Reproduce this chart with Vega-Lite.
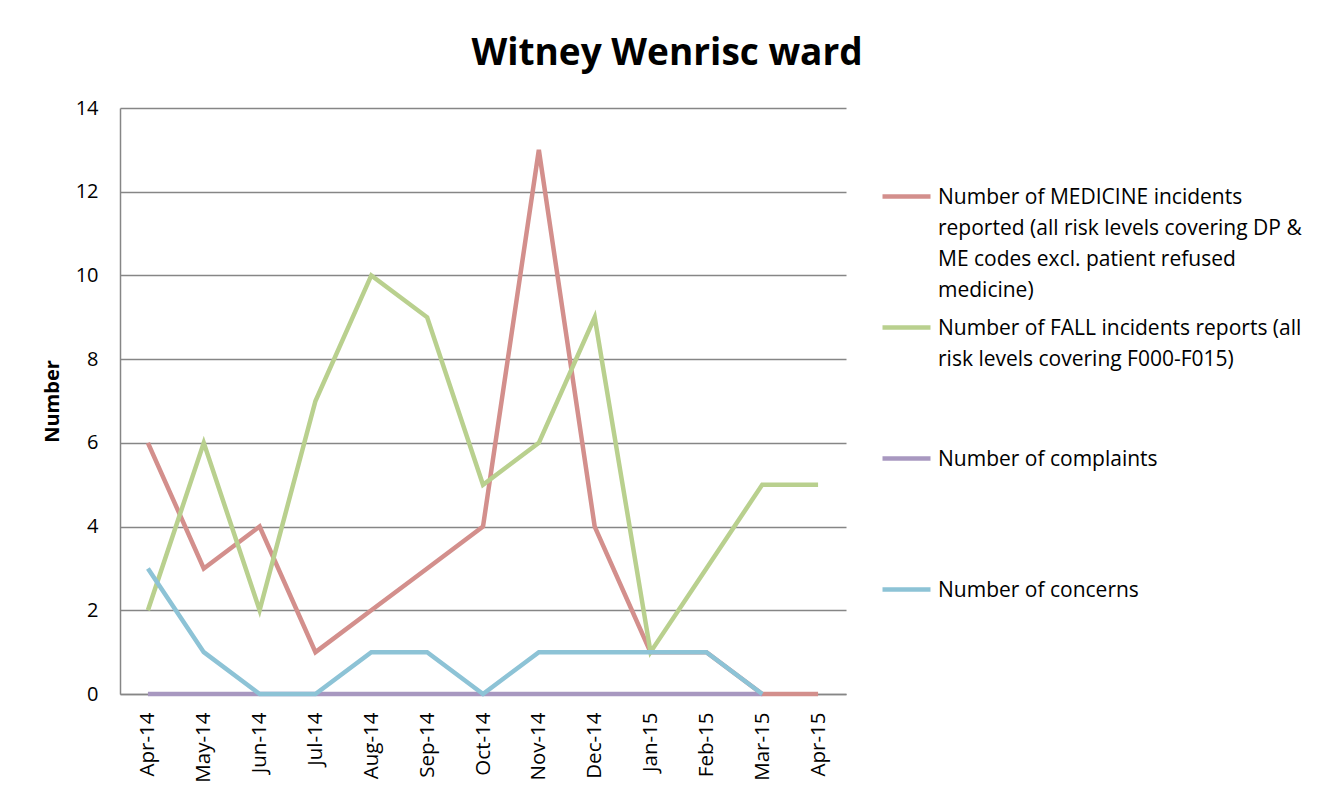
{
  "$schema": "https://vega.github.io/schema/vega-lite/v6.json",
  "autosize": {"type": "none"},
  "padding": {"left": 120, "top": 108, "right": 486, "bottom": 98},
  "width": 726,
  "height": 586,
  "background": "white",
  "title": {
    "text": "Witney Wenrisc ward",
    "font": "Open Sans",
    "fontSize": 37,
    "fontWeight": "bold",
    "color": "black",
    "anchor": "middle",
    "dx": 184,
    "offset": 25
  },
  "config": {
    "font": "Open Sans",
    "view": {"stroke": null},
    "axis": {"labelFont": "Open Sans", "titleFont": "Open Sans", "labelColor": "black", "titleColor": "black"}
  },
  "data": {
    "values": [
      {"month": "Apr-14", "series": "Number of MEDICINE incidents reported (all risk levels covering DP & ME codes excl. patient refused medicine)", "value": 6},
      {"month": "May-14", "series": "Number of MEDICINE incidents reported (all risk levels covering DP & ME codes excl. patient refused medicine)", "value": 3},
      {"month": "Jun-14", "series": "Number of MEDICINE incidents reported (all risk levels covering DP & ME codes excl. patient refused medicine)", "value": 4},
      {"month": "Jul-14", "series": "Number of MEDICINE incidents reported (all risk levels covering DP & ME codes excl. patient refused medicine)", "value": 1},
      {"month": "Aug-14", "series": "Number of MEDICINE incidents reported (all risk levels covering DP & ME codes excl. patient refused medicine)", "value": 2},
      {"month": "Sep-14", "series": "Number of MEDICINE incidents reported (all risk levels covering DP & ME codes excl. patient refused medicine)", "value": 3},
      {"month": "Oct-14", "series": "Number of MEDICINE incidents reported (all risk levels covering DP & ME codes excl. patient refused medicine)", "value": 4},
      {"month": "Nov-14", "series": "Number of MEDICINE incidents reported (all risk levels covering DP & ME codes excl. patient refused medicine)", "value": 13},
      {"month": "Dec-14", "series": "Number of MEDICINE incidents reported (all risk levels covering DP & ME codes excl. patient refused medicine)", "value": 4},
      {"month": "Jan-15", "series": "Number of MEDICINE incidents reported (all risk levels covering DP & ME codes excl. patient refused medicine)", "value": 1},
      {"month": "Feb-15", "series": "Number of MEDICINE incidents reported (all risk levels covering DP & ME codes excl. patient refused medicine)", "value": 1},
      {"month": "Mar-15", "series": "Number of MEDICINE incidents reported (all risk levels covering DP & ME codes excl. patient refused medicine)", "value": 0},
      {"month": "Apr-15", "series": "Number of MEDICINE incidents reported (all risk levels covering DP & ME codes excl. patient refused medicine)", "value": 0},
      {"month": "Apr-14", "series": "Number of FALL incidents reports (all risk levels covering F000-F015)", "value": 2},
      {"month": "May-14", "series": "Number of FALL incidents reports (all risk levels covering F000-F015)", "value": 6},
      {"month": "Jun-14", "series": "Number of FALL incidents reports (all risk levels covering F000-F015)", "value": 2},
      {"month": "Jul-14", "series": "Number of FALL incidents reports (all risk levels covering F000-F015)", "value": 7},
      {"month": "Aug-14", "series": "Number of FALL incidents reports (all risk levels covering F000-F015)", "value": 10},
      {"month": "Sep-14", "series": "Number of FALL incidents reports (all risk levels covering F000-F015)", "value": 9},
      {"month": "Oct-14", "series": "Number of FALL incidents reports (all risk levels covering F000-F015)", "value": 5},
      {"month": "Nov-14", "series": "Number of FALL incidents reports (all risk levels covering F000-F015)", "value": 6},
      {"month": "Dec-14", "series": "Number of FALL incidents reports (all risk levels covering F000-F015)", "value": 9},
      {"month": "Jan-15", "series": "Number of FALL incidents reports (all risk levels covering F000-F015)", "value": 1},
      {"month": "Feb-15", "series": "Number of FALL incidents reports (all risk levels covering F000-F015)", "value": 3},
      {"month": "Mar-15", "series": "Number of FALL incidents reports (all risk levels covering F000-F015)", "value": 5},
      {"month": "Apr-15", "series": "Number of FALL incidents reports (all risk levels covering F000-F015)", "value": 5},
      {"month": "Apr-14", "series": "Number of complaints", "value": 0},
      {"month": "May-14", "series": "Number of complaints", "value": 0},
      {"month": "Jun-14", "series": "Number of complaints", "value": 0},
      {"month": "Jul-14", "series": "Number of complaints", "value": 0},
      {"month": "Aug-14", "series": "Number of complaints", "value": 0},
      {"month": "Sep-14", "series": "Number of complaints", "value": 0},
      {"month": "Oct-14", "series": "Number of complaints", "value": 0},
      {"month": "Nov-14", "series": "Number of complaints", "value": 0},
      {"month": "Dec-14", "series": "Number of complaints", "value": 0},
      {"month": "Jan-15", "series": "Number of complaints", "value": 0},
      {"month": "Feb-15", "series": "Number of complaints", "value": 0},
      {"month": "Mar-15", "series": "Number of complaints", "value": 0},
      {"month": "Apr-14", "series": "Number of concerns", "value": 3},
      {"month": "May-14", "series": "Number of concerns", "value": 1},
      {"month": "Jun-14", "series": "Number of concerns", "value": 0},
      {"month": "Jul-14", "series": "Number of concerns", "value": 0},
      {"month": "Aug-14", "series": "Number of concerns", "value": 1},
      {"month": "Sep-14", "series": "Number of concerns", "value": 1},
      {"month": "Oct-14", "series": "Number of concerns", "value": 0},
      {"month": "Nov-14", "series": "Number of concerns", "value": 1},
      {"month": "Dec-14", "series": "Number of concerns", "value": 1},
      {"month": "Jan-15", "series": "Number of concerns", "value": 1},
      {"month": "Feb-15", "series": "Number of concerns", "value": 1},
      {"month": "Mar-15", "series": "Number of concerns", "value": 0}
    ]
  },
  "mark": {"type": "line", "strokeWidth": 4.5, "strokeCap": "butt", "strokeJoin": "miter"},
  "encoding": {
    "x": {
      "field": "month",
      "type": "ordinal",
      "sort": null,
      "scale": {"type": "point", "padding": 0.5},
      "axis": {
        "title": null,
        "labelAngle": -90,
        "labelFontSize": 20.5,
        "labelPadding": 18,
        "ticks": false,
        "domain": true,
        "domainColor": "#868686",
        "domainWidth": 1.5,
        "grid": false
      }
    },
    "y": {
      "field": "value",
      "type": "quantitative",
      "scale": {"domain": [0, 14]},
      "axis": {
        "title": "Number",
        "titleFontSize": 20,
        "titleFontWeight": "bold",
        "titlePadding": 13,
        "values": [0, 2, 4, 6, 8, 10, 12, 14],
        "labelFontSize": 20,
        "labelPadding": 22,
        "ticks": false,
        "domainColor": "#868686",
        "domainWidth": 1.5,
        "grid": true,
        "gridColor": "#868686",
        "gridWidth": 1.5
      }
    },
    "color": {
      "field": "series",
      "type": "nominal",
      "sort": null,
      "scale": {
        "domain": [
          "Number of MEDICINE incidents reported (all risk levels covering DP & ME codes excl. patient refused medicine)",
          "Number of FALL incidents reports (all risk levels covering F000-F015)",
          "Number of complaints",
          "Number of concerns"
        ],
        "range": ["#d38f8c", "#b9d08e", "#a898c0", "#8dc3d6"]
      },
      "legend": {
        "title": null,
        "orient": "none",
        "legendX": 760,
        "legendY": 62,
        "padding": 0,
        "symbolType": "stroke",
        "symbolStrokeWidth": 4.5,
        "symbolSize": 2304,
        "labelFont": "Open Sans",
        "labelFontSize": 21,
        "labelColor": "black",
        "labelLimit": 500,
        "labelOffset": 5,
        "labelBaseline": "middle",
        "gridAlign": "all",
        "rowPadding": 0,
        "labelExpr": "indexof(datum.label, 'MEDICINE') >= 0 ? ['Number of MEDICINE incidents', 'reported (all risk levels covering DP &', 'ME codes excl. patient refused', 'medicine)'] : indexof(datum.label, 'FALL') >= 0 ? ['Number of FALL incidents reports (all', 'risk levels covering F000-F015)'] : datum.label",
        "encode": {
          "labels": {"update": {"baseline": {"value": "top"}, "dy": {"value": -10}, "lineHeight": {"value": 31}}}
        }
      }
    }
  }
}
